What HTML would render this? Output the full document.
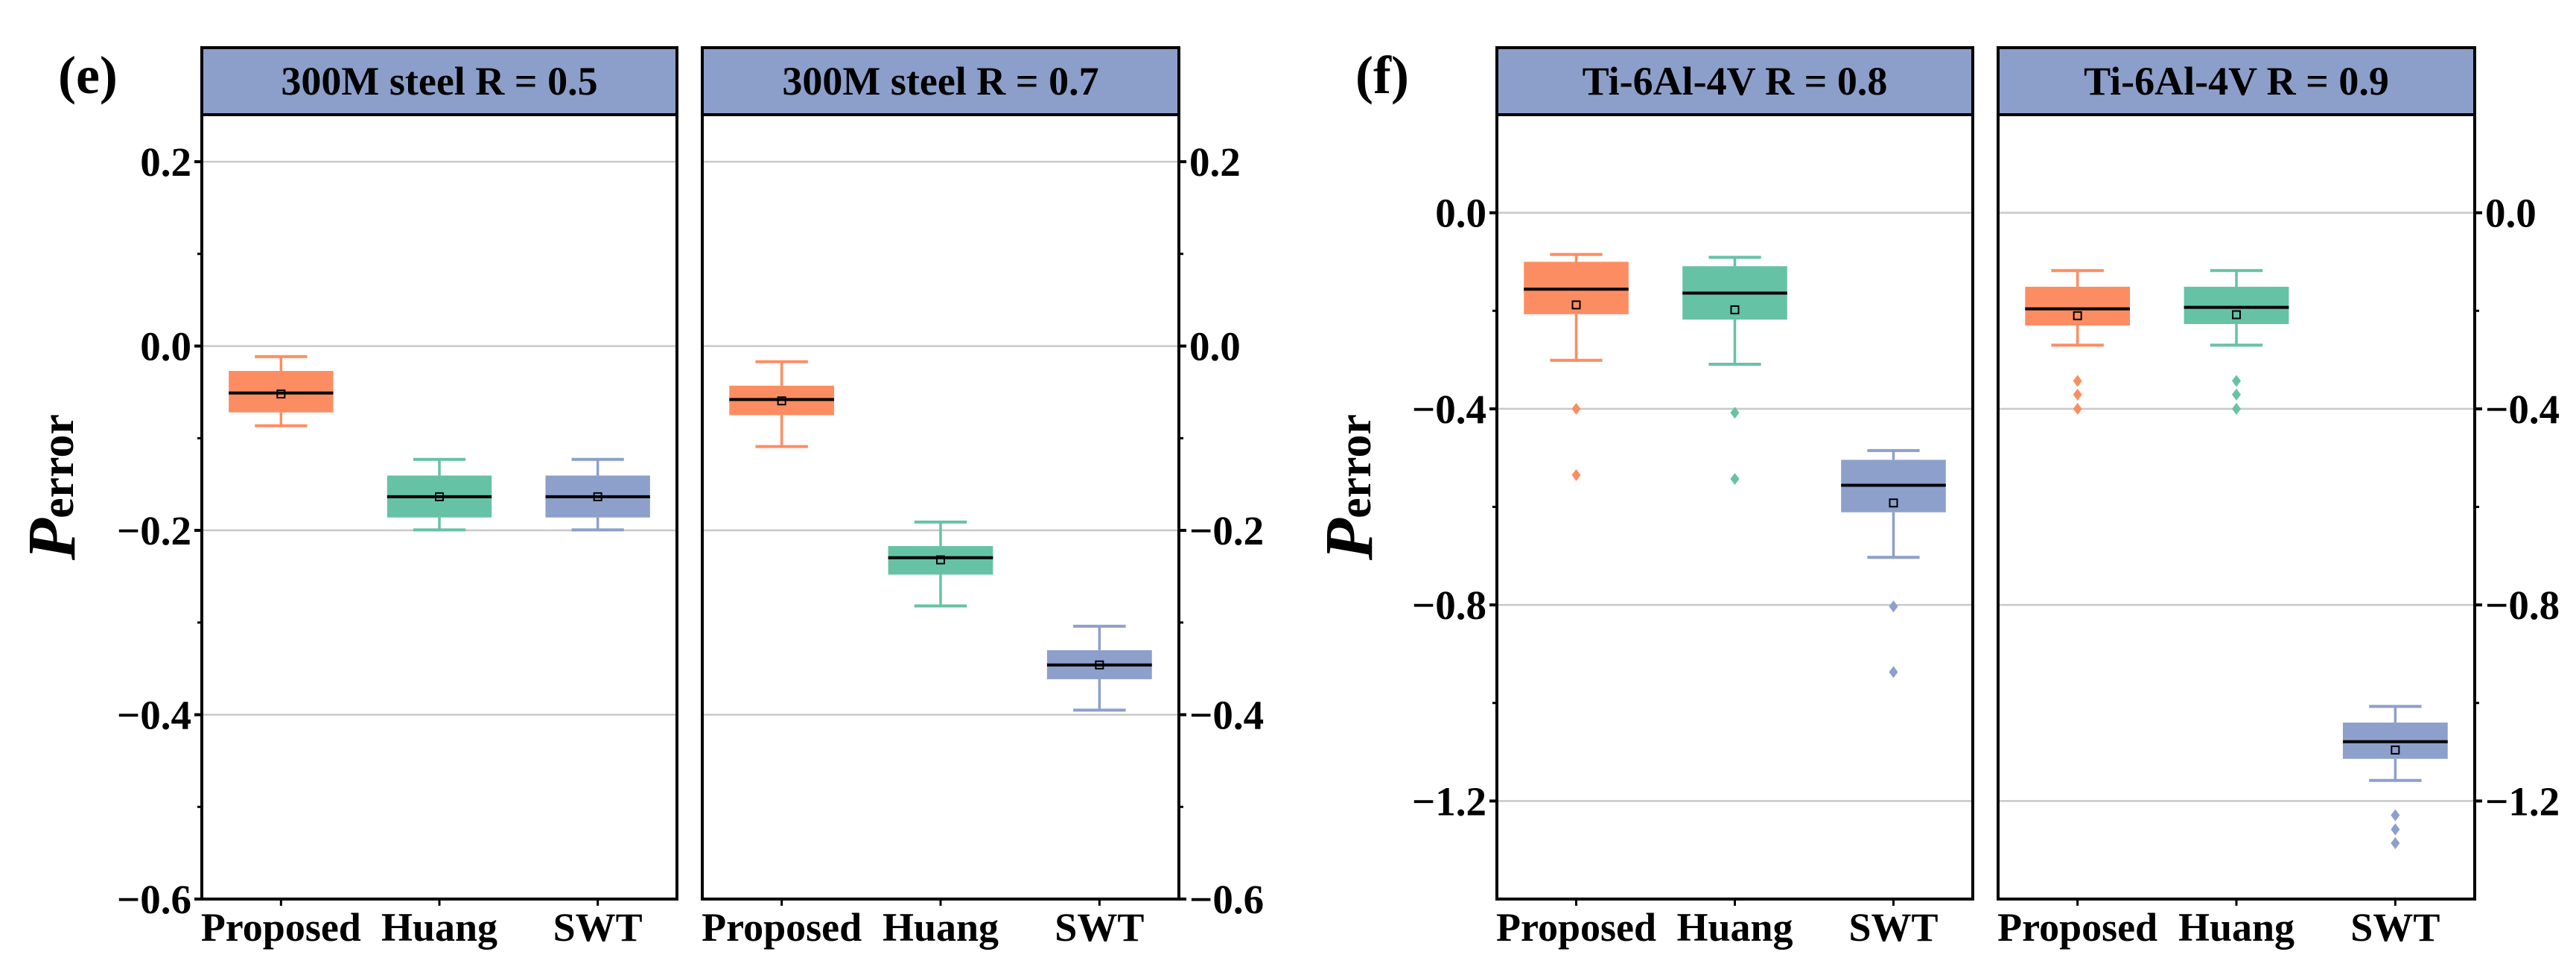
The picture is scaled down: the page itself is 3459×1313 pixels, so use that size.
<!DOCTYPE html>
<html><head><meta charset="utf-8"><style>
html,body{margin:0;padding:0;background:#fff;}
svg{display:block;font-family:"Liberation Serif",serif;font-weight:bold;}
</style></head><body>
<svg id="chart" width="3459" height="1313" viewBox="0 0 3459 1313" xmlns="http://www.w3.org/2000/svg"></svg>
<script>
const categories = ["Proposed","Huang","SWT"];
const colors = ["#FC8D62","#66C2A5","#8DA0CB"];
const panelTitles = ["300M steel R = 0.5","300M steel R = 0.7","Ti-6Al-4V R = 0.8","Ti-6Al-4V R = 0.9"];
// each box: [whiskerLow, q1, median, q3, whiskerHigh, mean]
const boxesE1 = [[-0.0865,-0.072,-0.051,-0.027,-0.0115,-0.052],[-0.1995,-0.186,-0.1635,-0.1405,-0.123,-0.1635],[-0.1995,-0.186,-0.1635,-0.1405,-0.123,-0.1635]];
const boxesE2 = [[-0.109,-0.075,-0.058,-0.043,-0.017,-0.0595],[-0.282,-0.248,-0.2297,-0.217,-0.191,-0.232],[-0.395,-0.3615,-0.346,-0.330,-0.304,-0.346]];
const boxesF1 = [[-0.301,-0.207,-0.156,-0.100,-0.085,-0.188],[-0.309,-0.218,-0.164,-0.109,-0.091,-0.198],[-0.703,-0.611,-0.556,-0.504,-0.485,-0.592]];
const boxesF2 = [[-0.270,-0.230,-0.196,-0.151,-0.118,-0.210],[-0.270,-0.227,-0.193,-0.151,-0.118,-0.208],[-1.158,-1.114,-1.079,-1.040,-1.007,-1.096]];
const outliersE1 = [[],[],[]];
const outliersE2 = [[],[],[]];
const outliersF1 = [[-0.400,-0.535],[-0.408,-0.543],[-0.803,-0.937]];
const outliersF2 = [[-0.343,-0.371,-0.400],[-0.343,-0.371,-0.400],[-1.229,-1.258,-1.286]];
const ticksE = [0.2,0.0,-0.2,-0.4,-0.6];
const tickLabelsE = ["0.2","0.0","\u22120.2","\u22120.4","\u22120.6"];
const minorE = [0.1,-0.1,-0.3,-0.5];
const ticksF = [0.0,-0.4,-0.8,-1.2];
const tickLabelsF = ["0.0","\u22120.4","\u22120.8","\u22121.2"];
const minorF = [-0.2,-0.6,-1.0];

const svg = document.getElementById('chart');
const NS = "http://www.w3.org/2000/svg";
function mk(tag, attrs, parent){const e=document.createElementNS(NS,tag);for(const k in attrs)e.setAttribute(k,attrs[k]);(parent||svg).appendChild(e);return e;}

const TOP=154, BOT=1207, HEAD=64;
function yScale(min,max){return v=>BOT-(v-min)/(max-min)*(BOT-TOP);}

function panel(x0,x1,title,boxes,outs,ys,ticks,labels,minor,side,pname){
  const g=mk('g',{});
  
  
  const w=x1-x0;
  const xc=i=>x0+w*(i+0.5)/3;
  // header
  const h=mk('rect',{x:x0,y:HEAD,width:w,height:TOP-HEAD,fill:'#8C9FCA',stroke:'#000','stroke-width':4},g);
  
  
  const ht=mk('text',{x:(x0+x1)/2,y:127,'text-anchor':'middle','font-size':54,fill:'#000'},g);
  ht.textContent=title;
  
  
  // grid
  ticks.forEach(t=>{const l=mk('line',{x1:x0,x2:x1,y1:ys(t),y2:ys(t),stroke:'#c8c8c8','stroke-width':2.5},g);
    
    });
  // boxes
  boxes.forEach((b,i)=>{
    const c=colors[i], cx=xc(i), bw=w*0.22, cw=bw/2;
    const bg=mk('g',{},g);
    
    
    mk('line',{x1:cx,x2:cx,y1:ys(b[4]),y2:ys(b[3]),stroke:c,'stroke-width':3.5},bg);
    mk('line',{x1:cx,x2:cx,y1:ys(b[1]),y2:ys(b[0]),stroke:c,'stroke-width':3.5},bg);
    mk('line',{x1:cx-cw/2,x2:cx+cw/2,y1:ys(b[4]),y2:ys(b[4]),stroke:c,'stroke-width':4},bg);
    mk('line',{x1:cx-cw/2,x2:cx+cw/2,y1:ys(b[0]),y2:ys(b[0]),stroke:c,'stroke-width':4},bg);
    mk('rect',{x:cx-bw/2,y:ys(b[3]),width:bw,height:ys(b[1])-ys(b[3]),fill:c},bg);
    mk('line',{x1:cx-bw/2,x2:cx+bw/2,y1:ys(b[2]),y2:ys(b[2]),stroke:'#000','stroke-width':4},bg);
    mk('rect',{x:cx-5,y:ys(b[5])-5,width:10,height:10,fill:'none',stroke:'#000','stroke-width':2},bg);
    outs[i].forEach(o=>{const y=ys(o);
      const d=mk('polygon',{points:`${cx},${y-8} ${cx+6},${y} ${cx},${y+8} ${cx-6},${y}`,fill:c},bg);
      
      });
  });
  // frame
  mk('rect',{x:x0,y:TOP,width:w,height:BOT-TOP,fill:'none',stroke:'#000','stroke-width':4},g);
  // x ticks + labels
  categories.forEach((cname,i)=>{
    mk('line',{x1:xc(i),x2:xc(i),y1:BOT,y2:BOT+9,stroke:'#000','stroke-width':3},g);
    const t=mk('text',{x:xc(i),y:1263,'text-anchor':'middle','font-size':54,fill:'#000'},g);
    t.textContent=cname;
    
    
  });
  // y axis ticks
  if(side){
    const ax=side==='left'?x0:x1, dir=side==='left'?-1:1;
    ticks.forEach((t,k)=>{
      mk('line',{x1:ax,x2:ax+dir*10,y1:ys(t),y2:ys(t),stroke:'#000','stroke-width':4},g);
      const tl=mk('text',{x:ax+dir*14,y:ys(t)+19,'text-anchor':side==='left'?'end':'start','font-size':55,fill:'#000'},g);
      tl.textContent=labels[k];
      
      
    });
    minor.forEach(t=>mk('line',{x1:ax,x2:ax+dir*6,y1:ys(t),y2:ys(t),stroke:'#000','stroke-width':3},g));
  }
}
const yE=yScale(-0.6,0.251), yF=yScale(-1.4,0.2);
panel(271,909,panelTitles[0],boxesE1,outliersE1,yE,ticksE,tickLabelsE,minorE,'left','panel-e-r05');
panel(943,1583,panelTitles[1],boxesE2,outliersE2,yE,ticksE,tickLabelsE,minorE,'right','panel-e-r07');
panel(2010,2649,panelTitles[2],boxesF1,outliersF1,yF,ticksF,tickLabelsF,minorF,'left','panel-f-r08');
panel(2683,3323,panelTitles[3],boxesF2,outliersF2,yF,ticksF,tickLabelsF,minorF,'right','panel-f-r09');

function yTitle(x,name){
  const t=mk('text',{transform:`translate(${x},654) rotate(-90)`,'text-anchor':'middle',fill:'#000'});
  
  
  const p=mk('tspan',{'font-size':92,'font-style':'italic'},t);p.textContent='P';
  const s=mk('tspan',{'font-size':62,dy:-2},t);s.textContent='error';
}
yTitle(100,'y-axis-title-e');
yTitle(1842,'y-axis-title-f');
const le=mk('text',{x:78,y:125,'font-size':72,fill:'#000'});le.textContent='(e)';


const lf=mk('text',{x:1820,y:125,'font-size':72,fill:'#000'});lf.textContent='(f)';


</script>
</body></html>
